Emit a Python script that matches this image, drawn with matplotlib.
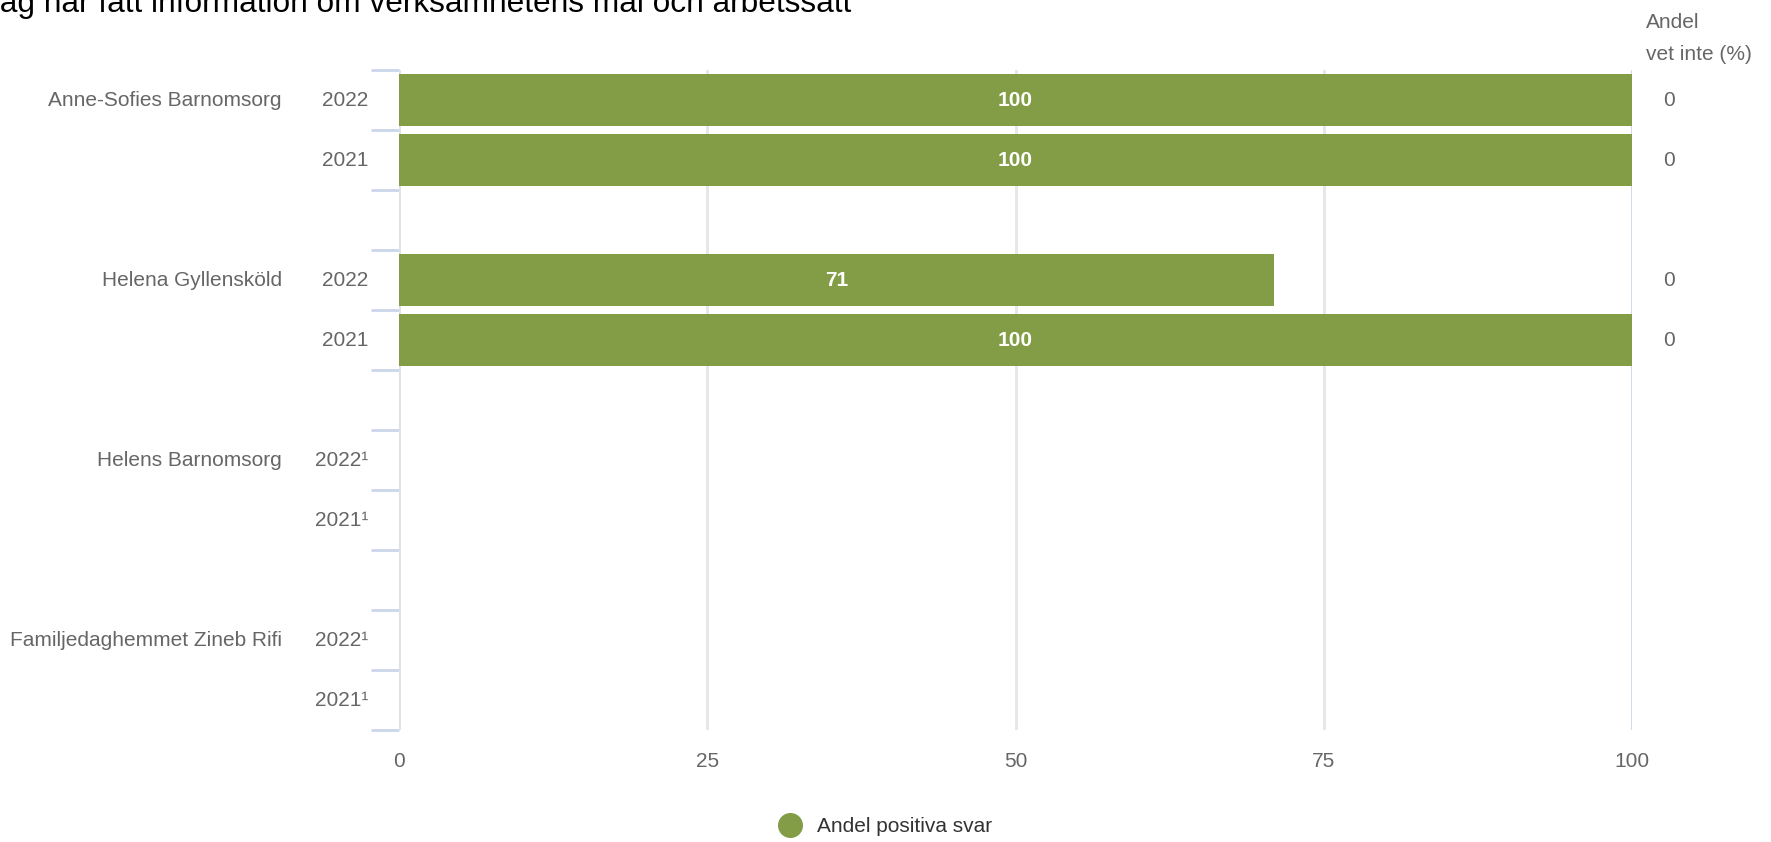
import matplotlib
matplotlib.use("Agg")
import matplotlib.pyplot as plt
import matplotlib.transforms as mtransforms
from matplotlib.lines import Line2D

# Data
groups = ["Anne-Sofies Barnomsorg", "Helena Gyllensköld", "Helens Barnomsorg", "Familjedaghemmet Zineb Rifi"]
years = [["2022", "2021"], ["2022", "2021"], ["2022¹", "2021¹"], ["2022¹", "2021¹"]]
positive = [[100, 100], [71, 100], [None, None], [None, None]]
vet_inte = [["0", "0"], ["0", "0"], ["", ""], ["", ""]]
xticks = [0, 25, 50, 75, 100]

title = "Jag har fått information om verksamhetens mål och arbetssätt"
bar_color = "#829d45"
text_color = "#666666"
fs = 15

plt.rcParams["font.family"] = ["Liberation Sans", "DejaVu Sans"]

fig = plt.figure(figsize=(17.71, 8.42), dpi=100)
ax = fig.add_axes([399 / 1771, 1 - 730 / 842, (1632 - 399) / 1771, 660 / 842])

ax.set_xlim(0, 100)
ax.set_ylim(10.5, -0.5)

fig_y = mtransforms.blended_transform_factory(fig.transFigure, ax.transData)

for g, name in enumerate(groups):
    base = g * 3
    ax.text(282 / 1771, base, name, transform=fig_y, ha="right", va="center",
            fontsize=fs, color=text_color)
    for i in range(2):
        y = base + i
        ax.text(368 / 1771, y, years[g][i], transform=fig_y, ha="right", va="center",
                fontsize=fs, color=text_color)
        v = positive[g][i]
        if v is not None:
            ax.barh(y, v, height=0.87, color=bar_color, zorder=3)
            ax.text(v / 2, y, str(v), ha="center", va="center", fontsize=fs,
                    fontweight="bold", color="white", zorder=4)
        if vet_inte[g][i]:
            ax.text(1663 / 1771, y, vet_inte[g][i], transform=fig_y, ha="left",
                    va="center", fontsize=fs, color=text_color)

# grid and axes styling
for x in xticks[1:-1]:
    ax.axvline(x, color="#e6e6e6", lw=2, zorder=1)
ax.axvline(100, color="#ccd6eb", lw=2, zorder=1)
for s in ax.spines.values():
    s.set_visible(False)
ax.axvline(0, color="#e0e0e0", lw=2, zorder=2)

ax.set_yticks([i - 0.5 for i in range(12)])
ax.set_yticklabels([])
ax.tick_params(axis="y", length=20, width=2, color="#ccd6eb")
ax.set_xticks(xticks)
ax.set_xticklabels([str(x) for x in xticks])
ax.tick_params(axis="x", length=0, pad=16, labelsize=fs, labelcolor=text_color)

# title (clipped at the left edge as in the reference)
fig.text(-0.009, 1 - 12 / 842, title, ha="left", va="baseline", fontsize=22.8, color="#000000")

# right column header
fig.text(1646 / 1771, 1 - 23 / 842, "Andel", ha="left", va="center", fontsize=fs, color=text_color)
fig.text(1646 / 1771, 1 - 55 / 842, "vet inte (%)", ha="left", va="center", fontsize=fs, color=text_color)

# legend
handle = Line2D([], [], marker="o", linestyle="none", markersize=17,
                markerfacecolor=bar_color, markeredgecolor=bar_color)
fig.legend([handle], ["Andel positiva svar"], loc="center", bbox_to_anchor=(0.4975, 1 - 827 / 842),
           frameon=False, fontsize=fs, handletextpad=0.3, labelcolor="#333333")

fig.savefig("out.png", dpi=100)
